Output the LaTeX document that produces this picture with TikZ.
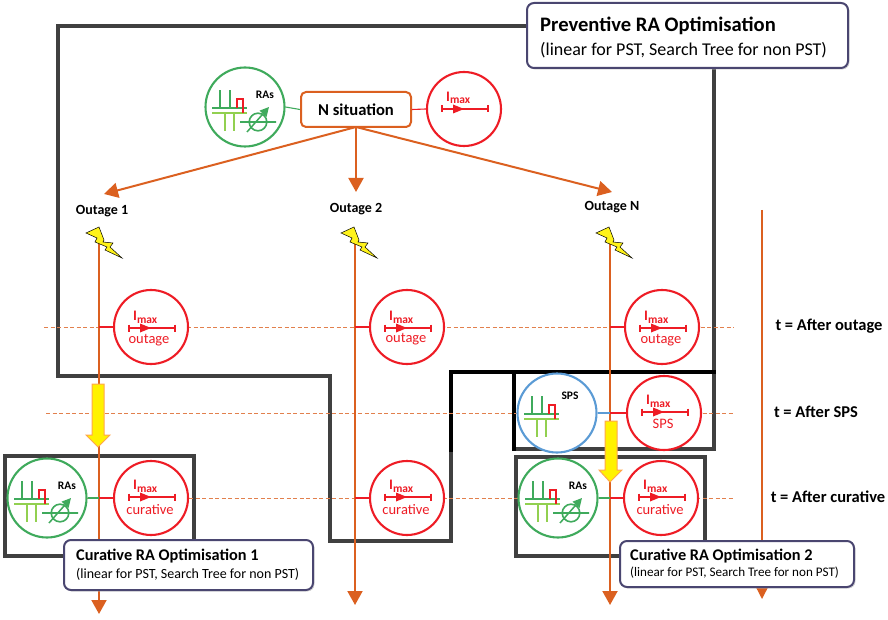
\documentclass[tikz,border=0pt]{standalone}
\usepackage{fontspec}
\setmainfont{Carlito}
\usetikzlibrary{arrows.meta}
\definecolor{rorange}{HTML}{DB6020}
\definecolor{rgreen}{HTML}{3FAA5C}
\definecolor{rlight}{HTML}{92D050}
\definecolor{rblue}{HTML}{5B9BD5}
\definecolor{rred}{HTML}{EE1C25}
\definecolor{rdark}{HTML}{404040}
\definecolor{rcall}{HTML}{4A4670}
\tikzset{
  x=1pt,y=-1pt,
  redcirc/.style={circle,draw=rred,fill=white,line width=2.1pt,minimum size=74pt,inner sep=0pt},
  greencirc/.style={circle,draw=rgreen,fill=white,line width=2.1pt,minimum size=79pt,inner sep=0pt},
  bluecirc/.style={circle,draw=rblue,fill=white,line width=2.1pt,minimum size=79pt,inner sep=0pt},
  flow/.style={draw=rorange,line width=2pt,-{Triangle[length=14pt,width=15pt]}},
  guide/.style={draw=rorange!80!white,line width=.7pt,dash pattern=on 4pt off 2.5pt},
  wall/.style={draw=rdark,line width=3.4pt,line join=miter,line cap=rect,
    preaction={draw=black!25,transform canvas={shift={(1.2pt,-1.2pt)}}}},
  blackwall/.style={draw=black,line width=4pt,line cap=rect},
  callout/.style={draw=rcall,fill=white,line width=2pt,rounded corners=7pt,inner sep=0pt,
    preaction={draw=black!25,transform canvas={shift={(1.2pt,-1.2pt)}}}},
  lbl/.style={font=\bfseries\fontsize{14}{16}\selectfont,text=black,inner sep=0pt},
  tlbl/.style={font=\bfseries\fontsize{16.5}{18}\selectfont,text=black,inner sep=0pt},
  yarrow/.style={draw=orange!70!white,fill=yellow,line width=1pt,line join=miter},
  bolt/.style={draw=black,fill=yellow!90!white,line width=.5pt,line join=miter},
  ras/.pic={
    \draw[rgreen,line width=1.6pt] (-33,1)--(2,1) (-25,1)--(-25,-17) (-15,1)--(-15,-17);
    \draw[rlight,line width=1.6pt] (-33,6)--(2,6) (-20,6)--(-20,24) (-11,6)--(-11,24);
    \draw[rred,line width=1.6pt] (-8,1)--(-8,-8)--(-2,-8)--(-2,6);
  },
  shifter/.pic={
    \draw[rgreen,line width=1.6pt] (-5,15)--(31,15) (13,15) circle (8.8);
    \draw[rgreen,line width=1.5pt,-{Triangle[length=9pt,width=9pt]}] (2,25)--(24,0);
    \node[font=\bfseries\fontsize{11.5}{12}\selectfont,inner sep=0pt] at (20,-12) {RAs};
  },
  imax/.pic={
    \draw[rred,line width=1.9pt] (-22,0)--(24,0) (-22,-3.5)--(-22,3.5) (24,-3.5)--(24,3.5);
    \fill[rred] (-11,-4.5)--(0,0)--(-11,4.5)--cycle;
    \node[text=rred,inner sep=0pt,anchor=base west,font=\bfseries\fontsize{14.5}{16}\selectfont] at (-18,-7.5)
      {I\raisebox{-2.5pt}{\fontsize{11.5}{12}\selectfont max}};
  }
}
\newcommand{\sublabel}[2]{\node[text=rred,inner sep=0pt,font=\fontsize{14.5}{16}\selectfont] at #1 {#2};}
\begin{document}
\begin{tikzpicture}
\useasboundingbox (0,0) rectangle (888,620);
% named anchors
\coordinate (ntop) at (356,127);
\coordinate (o1end) at (104,194);
\coordinate (o2end) at (356,192);
\coordinate (o3end) at (612,192);
\coordinate (l1a) at (99,240); \coordinate (l1b) at (99,614);
\coordinate (l2a) at (355,240); \coordinate (l2b) at (355,605);
\coordinate (l3a) at (610,240); \coordinate (l3b) at (610,605);
\coordinate (tla) at (762,210); \coordinate (tlb) at (762,599);
% walls
\draw[wall] (527,26)--(58,26)--(58,376)--(330,376)--(330,541)--(451,541)--(451,450);
\draw[wall] (714,68)--(714,449)--(514,449);
\draw[wall] (5,456) rectangle (194,556);
\draw[wall] (516,457) rectangle (705,556);
\draw[blackwall] (451,450)--(451,372)--(714,372);
\draw[blackwall] (514,372)--(514,449);
% guides
\coordinate (g1a) at (44,327.6); \coordinate (g1b) at (734,327.6);
\coordinate (g2a) at (46,413); \coordinate (g2b) at (734,413);
\coordinate (g3a) at (46,498.5); \coordinate (g3b) at (734,498.5);
\draw[guide] (g1a)--(g1b);
\draw[guide] (g2a)--(g2b);
\draw[guide] (g3a)--(g3b);
% flow lines
\draw[flow] (ntop)--(o1end);
\draw[flow] (ntop)--(o2end);
\draw[flow] (ntop)--(o3end);
\draw[flow] (l1a)--(l1b);
\draw[flow] (l2a)--(l2b);
\draw[flow] (l3a)--(l3b);
\draw[draw=rorange,line width=1.3pt,-{Triangle[length=11pt,width=11pt]}] (tla)--(tlb);
% circles
\node[greencirc] (gtop) at (245,107) {};
\node[draw=rorange,fill=white,line width=2pt,rounded corners=5pt,minimum width=110pt,minimum height=35pt,inner sep=0pt,font=\bfseries\fontsize{16.6}{18}\selectfont] (nsit) at (356,109.5) {N situation};
\node[redcirc] (rtop) at (464,109) {};
\node[redcirc] (r1) at (151,327) {};
\node[redcirc] (r2) at (407,327) {};
\node[redcirc] (r3) at (662,327) {};
\node[bluecirc] (bsps) at (557,413) {};
\node[redcirc] (rsps) at (664,413) {};
\node[greencirc] (gc1) at (47,498) {};
\node[redcirc] (rc1) at (151,498) {};
\node[redcirc] (rc2) at (407,498) {};
\node[greencirc] (gc3) at (558,498) {};
\node[redcirc] (rc3) at (661,498) {};
% circle links
\draw[rgreen,line width=1.1pt] (gtop.east)--(nsit.west);
\draw[rred,line width=1.1pt] (nsit.east)--(rtop.west);
\draw[rred,line width=1.1pt] (l1a|-r1.west)--(r1.west);
\draw[rred,line width=1.1pt] (l2a|-r2.west)--(r2.west);
\draw[rred,line width=1.1pt] (l3a|-r3.west)--(r3.west);
\draw[rblue,line width=1.1pt] (bsps.east)--(l3a|-bsps.east);
\draw[rred,line width=1.1pt] (l3a|-rsps.west)--(rsps.west);
\draw[rgreen,line width=1.1pt] (gc1.east)--(l1a|-gc1.east);
\draw[rred,line width=1.1pt] (l1a|-rc1.west)--(rc1.west);
\draw[rred,line width=1.1pt] (l2a|-rc2.west)--(rc2.west);
\draw[rgreen,line width=1.1pt] (gc3.east)--(l3a|-gc3.east);
\draw[rred,line width=1.1pt] (l3a|-rc3.west)--(rc3.west);
% icons
\pic at (245,107) {ras};
\pic at (245,107) {shifter};
\pic at (47,498) {ras};
\pic at (47,498) {shifter};
\pic at (558,498) {ras};
\pic at (558,498) {shifter};
\pic at (557,413) {ras};
\node[font=\bfseries\fontsize{11.5}{12}\selectfont,inner sep=0pt] at (570,396) {SPS};
\pic at (464,109) {imax};
\pic at (151,328) {imax};
\pic at (407,328) {imax};
\pic at (662,328) {imax};
\pic at (664,412) {imax};
\pic at (151,497) {imax};
\pic at (407,497) {imax};
\pic at (661,497) {imax};
\sublabel{(149,340)}{outage}
\sublabel{(406,339)}{outage}
\sublabel{(661,340)}{outage}
\sublabel{(663,424)}{SPS}
\sublabel{(150,510)}{curative}
\sublabel{(406,510)}{curative}
\sublabel{(660,510)}{curative}
% outage labels
\node[lbl] (t1) at (102,211) {Outage 1};
\node[lbl] (t2) at (356,209) {Outage 2};
\node[lbl] (t3) at (612,207) {Outage N};
% bolts
\foreach \bx/\by in {99/230,354/230,609/230}{
  \draw[bolt] (\bx-13,\by+3)--(\bx,\by-3)--(\bx+5,\by+10)--(\bx+4,\by+12)--(\bx+14,\by+13)--(\bx+11,\by+17)--(\bx+23,\by+28)--(\bx+6,\by+20)--(\bx+8,\by+17)--(\bx-4,\by+12)--(\bx-2,\by+8)--cycle;
}
% yellow arrows
\draw[yarrow] (92,384)--(104,384)--(104,435)--(110,435)--(98,447)--(86,435)--(92,435)--cycle;
\draw[yarrow] (605,421)--(617,421)--(617,470)--(622,470)--(610,482)--(599,470)--(605,470)--cycle;
% time labels
\node[tlbl] (ta) at (829,326) {t = After outage};
\node[tlbl] (tb) at (816,412) {t = After SPS};
\node[tlbl] (tc) at (828,497) {t = After curative};
% callouts
\draw[callout] (527,3) rectangle (848,68);
\node[anchor=west,inner sep=0pt,font=\bfseries\fontsize{20.6}{24}\selectfont] (pt) at (540,26) {Preventive RA Optimisation};
\node[anchor=west,inner sep=0pt,font=\fontsize{18}{20}\selectfont] (ps) at (540,50) {(linear for PST, Search Tree for non PST)};
\draw[callout] (64,540) rectangle (313,590);
\node[anchor=west,inner sep=0pt,font=\bfseries\fontsize{16.3}{18}\selectfont] (c1t) at (76,556) {Curative RA Optimisation 1};
\node[anchor=west,inner sep=0pt,font=\fontsize{14}{16}\selectfont] (c1s) at (76,574) {(linear for PST, Search Tree for non PST)};
\draw[callout] (620,541) rectangle (854,587);
\node[anchor=west,inner sep=0pt,font=\bfseries\fontsize{16.3}{18}\selectfont] (c2t) at (630,556) {Curative RA Optimisation 2};
\node[anchor=west,inner sep=0pt,font=\fontsize{13.1}{15}\selectfont] (c2s) at (630,573) {(linear for PST, Search Tree for non PST)};
\end{tikzpicture}
\end{document}
